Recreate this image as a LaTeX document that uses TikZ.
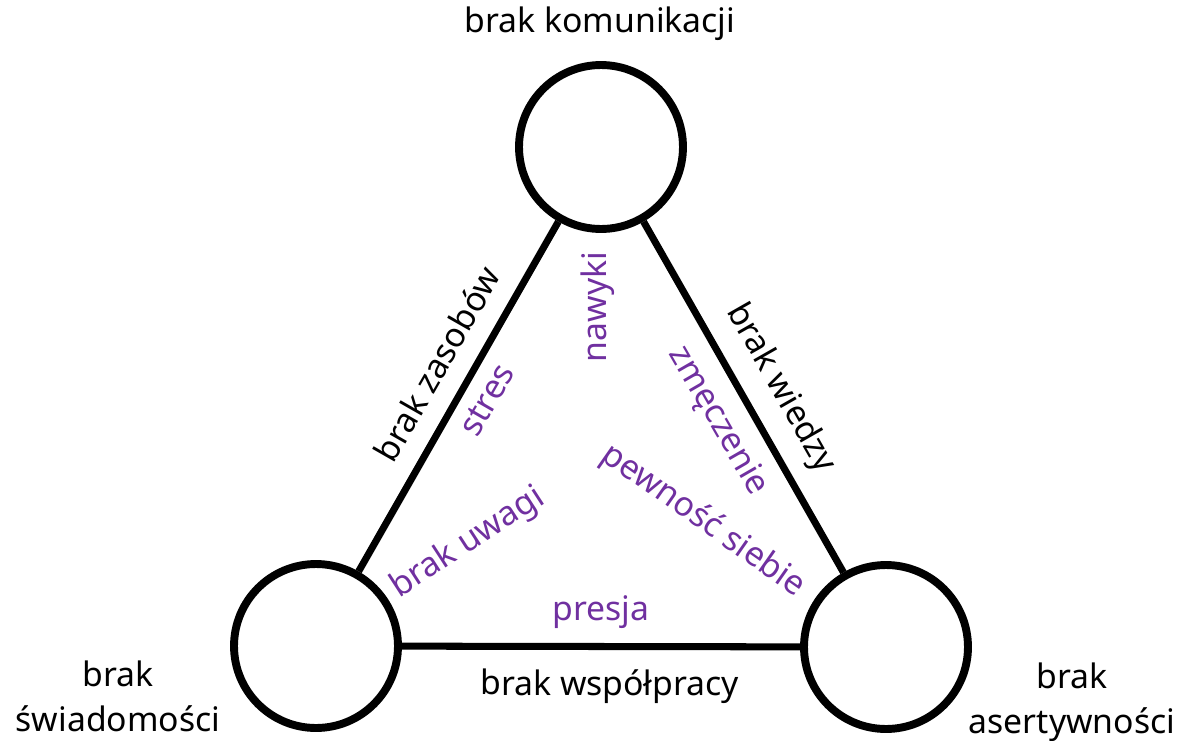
\documentclass[tikz,border=0pt]{standalone}
\usepackage{fontspec}
\setmainfont{Noto Sans}
\usetikzlibrary{positioning}
\definecolor{causepurple}{HTML}{7030A0}

\begin{document}
\begin{tikzpicture}[
  x=0.02cm, y=-0.02cm,
  font=\fontsize{19.2}{25.6}\selectfont,
  hub/.style={circle, draw=black, line width=4.5pt, minimum size=3.28cm, inner sep=0pt},
  link/.style={line width=4pt, draw=black},
  el/.style={inner sep=0pt, sloped},
  cause/.style={text=causepurple, inner sep=0pt},
  corner/.style={align=center, inner sep=0pt},
]
\useasboundingbox (0,0) rectangle (1181,741);

\node[hub] (kom) at (601,147) {};
\node[hub] (swi) at (316,646) {};
\node[hub] (ase) at (886,647) {};

\node[corner] (komlab) at (600,24)  {brak komunikacji};
\node[corner] (swilab) at (118,696) {brak\\świadomości};
\node[corner] (aselab) at (1072,702) {brak\\asertywności};

\draw[link] (swi) -- node[el, above=10.5pt, pos=0.544] (zas) {brak zasobów} (kom);
\draw[link] (kom) -- node[el, above=9pt, pos=0.527] (wie) {brak wiedzy} (ase);
\draw[link] (swi) -- node[el, below=11pt, pos=0.522] (wsp) {brak współpracy} (ase);

% causes inside the triangle
\node[cause, rotate=90]  (naw) at (598,307) {nawyki};
\node[cause, rotate=60]  (str) at (487,400) {stres};
\node[cause, rotate=-60] (zme) at (718,421) {zmęczenie};
\node[cause, rotate=-35] (pew) at (703,521) {pewność siebie};
\node[cause, rotate=33]  (uwa) at (468,543) {brak uwagi};
\node[cause]             (pre) at (601,612) {presja};

\end{tikzpicture}
\end{document}
